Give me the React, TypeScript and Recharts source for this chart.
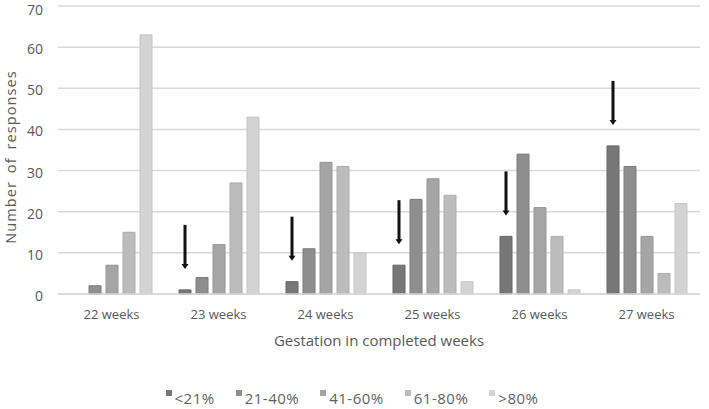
import React from "react";
import { BarChart, Bar, XAxis, YAxis, CartesianGrid, Legend, LabelList } from "recharts";

const weeks = ["22 weeks", "23 weeks", "24 weeks", "25 weeks", "26 weeks", "27 weeks"];
const under21 = [0, 1, 3, 7, 14, 36];
const from21to40 = [2, 4, 11, 23, 34, 31];
const from41to60 = [7, 12, 32, 28, 21, 14];
const from61to80 = [15, 27, 31, 24, 14, 5];
const over80 = [63, 43, 10, 3, 1, 22];
// weeks where the <21% bar is marked with a down arrow
const arrowMarked = [0, 1, 1, 1, 1, 1];
const yTicks = [0, 10, 20, 30, 40, 50, 60, 70];

const FONT = "'Open Sans', sans-serif";
const TEXT = "#595959";

const series = [
  { key: "lt21", name: "<21%", values: under21, fill: "#777777", stroke: "#666666" },
  { key: "p21", name: "21-40%", values: from21to40, fill: "#8e8e8e", stroke: "#7c7c7c" },
  { key: "p41", name: "41-60%", values: from41to60, fill: "#a5a5a5", stroke: "#959595" },
  { key: "p61", name: "61-80%", values: from61to80, fill: "#bcbcbc", stroke: "#adadad" },
  { key: "gt80", name: ">80%", values: over80, fill: "#d3d3d3", stroke: "#c6c6c6" },
];

const data = weeks.map((week, i) => {
  const row: Record<string, any> = { week, arrow: arrowMarked[i] };
  series.forEach((s) => {
    row[s.key] = s.values[i];
  });
  return row;
});

function DownArrow(props: any) {
  const { x, y, width, value } = props;
  if (value !== 1) return null;
  const cx = x + width / 2;
  const tip = y - 21;
  const top = tip - 44;
  return (
    <g>
      <line x1={cx} y1={top} x2={cx} y2={tip - 4} stroke="#111" strokeWidth={3} />
      <path d={`M${cx - 3.5},${tip - 5} L${cx + 3.5},${tip - 5} L${cx},${tip} Z`} fill="#111" />
    </g>
  );
}

function LegendRow() {
  return (
    <div
      style={{
        height: 55,
        boxSizing: "border-box",
        paddingTop: 34,
        paddingLeft: 4,
        display: "flex",
        justifyContent: "center",
        gap: 21,
        fontFamily: FONT,
        fontSize: 15,
        letterSpacing: 0.5,
        color: "#626262",
        lineHeight: "20px",
      }}
    >
      {series.map((s) => (
        <div key={s.key} style={{ display: "flex", alignItems: "flex-start" }}>
          <span
            style={{
              display: "inline-block",
              width: 6,
              height: 6,
              background: s.fill,
              marginTop: 2,
              marginRight: 3,
            }}
          />
          <span>{s.name}</span>
        </div>
      ))}
    </div>
  );
}

export default function App() {
  return (
    <div style={{ position: "absolute", left: 0, top: 0, background: "#fff" }}>
      <BarChart
        width={709}
        height={409}
        data={data}
        margin={{ top: 6, right: 9, left: 0, bottom: 0 }}
        barSize={12}
        barGap={5}
      >
        <CartesianGrid vertical={false} stroke="#d9d9d9" strokeWidth={1.5} />
        <XAxis
          dataKey="week"
          height={60}
          tickLine={false}
          tickSize={6}
          tickMargin={10}
          axisLine={{ stroke: "#d9d9d9", strokeWidth: 1.5 }}
          tick={{ fill: TEXT, fontSize: 13, fontFamily: FONT }}
          label={(p: any) => (
            <text
              x={p.viewBox.x + p.viewBox.width / 2}
              y={p.viewBox.y + 48}
              textAnchor="middle"
              dominantBaseline="middle"
              fill={TEXT}
              fontSize={15}
              fontFamily={FONT}
            >
              Gestation in completed weeks
            </text>
          )}
        />
        <YAxis
          width={58}
          domain={[0, 70]}
          ticks={yTicks}
          tickLine={false}
          axisLine={false}
          tickSize={6}
          tickMargin={9}
          tick={{ fill: TEXT, fontSize: 14, fontFamily: FONT, dy: 2 }}
          label={() => (
            <text
              x={12}
              y={157}
              transform="rotate(-90 12 157)"
              textAnchor="middle"
              dominantBaseline="middle"
              fill={TEXT}
              fontSize={14.5}
              fontFamily={FONT}
              letterSpacing={1.1}
              wordSpacing={3}
            >
              Number of responses
            </text>
          )}
        />
        <Legend verticalAlign="bottom" height={55} content={() => <LegendRow />} />
        {series.map((s, i) => (
          <Bar
            key={s.key}
            dataKey={s.key}
            name={s.name}
            fill={s.fill}
            stroke={s.stroke}
            strokeWidth={1}
            isAnimationActive={false}
          >
            {i === 0 && <LabelList dataKey="arrow" content={DownArrow} />}
          </Bar>
        ))}
      </BarChart>
    </div>
  );
}
